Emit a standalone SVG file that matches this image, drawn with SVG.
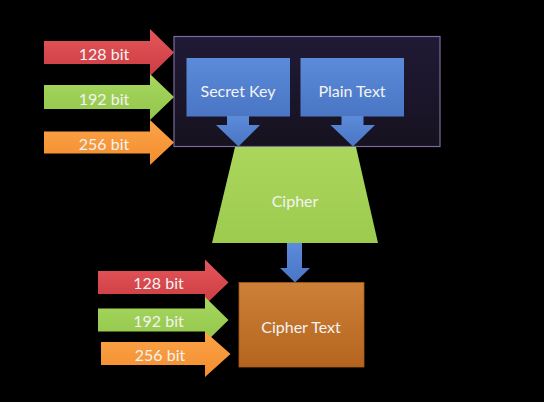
<svg xmlns="http://www.w3.org/2000/svg" width="544" height="402" viewBox="0 0 544 402">
<defs>
<linearGradient id="gRed" x1="0" y1="0" x2="0" y2="1"><stop offset="0" stop-color="#e4575b"/><stop offset="1" stop-color="#cc3c42"/></linearGradient>
<linearGradient id="gGreen" x1="0" y1="0" x2="0" y2="1"><stop offset="0" stop-color="#a6d75e"/><stop offset="1" stop-color="#93c64c"/></linearGradient>
<linearGradient id="gOrange" x1="0" y1="0" x2="0" y2="1"><stop offset="0" stop-color="#fba348"/><stop offset="1" stop-color="#f38e2e"/></linearGradient>
<linearGradient id="gBlue" x1="0" y1="0" x2="0" y2="1"><stop offset="0" stop-color="#5b8bd9"/><stop offset="1" stop-color="#4a76c4"/></linearGradient>
<linearGradient id="gCipher" x1="0" y1="0" x2="0" y2="1"><stop offset="0" stop-color="#abd65c"/><stop offset="1" stop-color="#9ccb4f"/></linearGradient>
<linearGradient id="gCT" x1="0" y1="0" x2="0" y2="1"><stop offset="0" stop-color="#cd8138"/><stop offset="1" stop-color="#b4641e"/></linearGradient>
<linearGradient id="gBox" x1="0" y1="0" x2="0" y2="1"><stop offset="0" stop-color="#201a36"/><stop offset="1" stop-color="#16121f"/></linearGradient>
</defs>
<style>
text{font-family:Lato,"Open Sans","Liberation Sans",sans-serif;font-size:16px;fill:#f3f3f3;text-anchor:middle}
.red{fill:url(#gRed)}
.green{fill:url(#gGreen)}
.orange{fill:url(#gOrange)}
.blue{fill:url(#gBlue)}
</style>
<rect x="0" y="0" width="544" height="402" fill="#000"/>

<g id="input-box">
<rect x="174" y="36.5" width="266" height="110" fill="url(#gBox)" stroke="#7b6a9c" stroke-width="1.2"/>
</g>

<g id="top-128">
<polygon class="red" points="44,41 150,41 150,29 174,52.5 150,76 150,64 44,64"/>
<text x="104" y="60">128 bit</text>
</g>
<g id="top-192">
<polygon class="green" points="44,85 150,85 150,74 174,97 150,120 150,109 44,109"/>
<text x="104" y="105">192 bit</text>
</g>
<g id="top-256">
<polygon class="orange" points="44,131.5 150,131.5 150,120 174,142.5 150,165 150,153.5 44,153.5"/>
<text x="104" y="150">256 bit</text>
</g>

<g id="secret-key">
<rect class="blue" x="186.5" y="58" width="103.5" height="58.5"/>
<text x="238" y="97">Secret Key</text>
</g>
<g id="plain-text">
<rect class="blue" x="300.5" y="58" width="103.5" height="58.5"/>
<text x="352" y="97">Plain Text</text>
</g>

<g id="cipher">
<polygon fill="url(#gCipher)" points="235,147 356,147 378,243 212,243"/>
<text x="295" y="207">Cipher</text>
</g>

<g id="cipher-text">
<rect fill="url(#gCT)" x="239" y="282.5" width="125" height="84.5" stroke="#a65a1a" stroke-width="0.8"/>
<text x="301" y="333">Cipher Text</text>
</g>

<g id="bottom-128">
<polygon class="red" points="98,271 205,271 205,259.5 228.5,282.5 205,305 205,294 98,294"/>
<text x="158.5" y="289">128 bit</text>
</g>
<g id="bottom-192">
<polygon class="green" points="98,308.5 205,308.5 205,297 228.5,320 205,343 205,331.5 98,331.5"/>
<text x="158.5" y="327">192 bit</text>
</g>
<g id="bottom-256">
<polygon class="orange" points="101,342 205,342 205,331.5 230.5,354 205,377 205,365 101,365"/>
<text x="160" y="361">256 bit</text>
</g>

<g id="connectors">
<polygon class="blue" points="227,116 249,116 249,125 260,125 238.5,146.5 216,125 227,125"/>
<polygon class="blue" points="341.5,116 363.5,116 363.5,125 375,125 353,146.5 330.5,125 341.5,125"/>
<polygon class="blue" points="287,243 302,243 302,268 310,268 295,282.5 280,268 287,268"/>
</g>
</svg>
